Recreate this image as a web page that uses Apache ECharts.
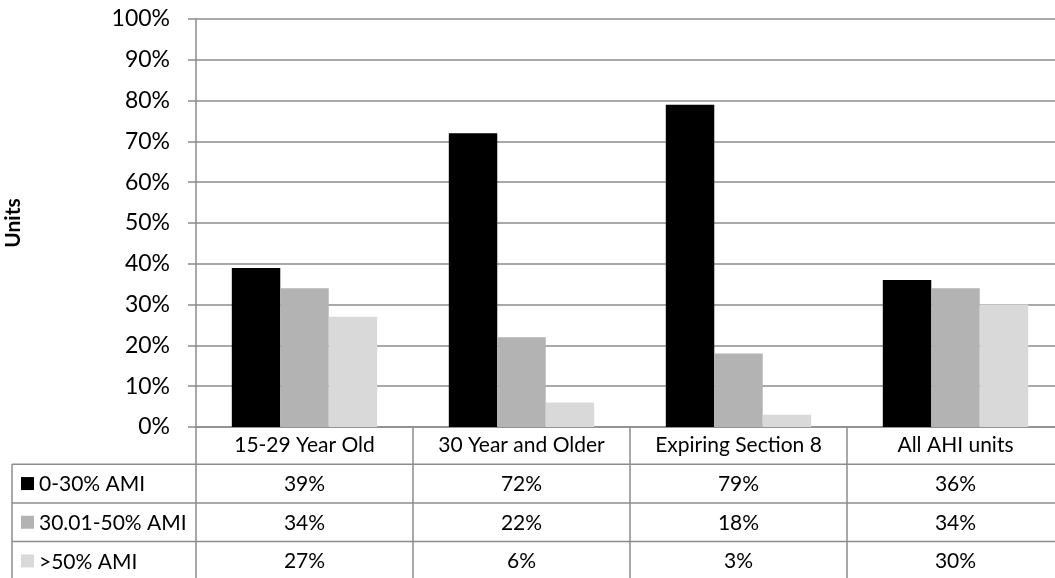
<!DOCTYPE html>
<html>
<head>
<meta charset="utf-8">
<title>AHI units by AMI band</title>
<script src="https://cdn.jsdelivr.net/npm/echarts@6/dist/echarts.min.js"></script>
<style>
  html, body { margin: 0; padding: 0; background: #ffffff; }
  #chart { width: 1055px; height: 578px; }
</style>
</head>
<body>
<div id="chart"></div>
<script>
// Property groups along the category axis
const categories = ['15-29 Year Old', '30 Year and Older', 'Expiring Section 8', 'All AHI units'];

// Share of units in each income band (percent)
const seriesNames = ['0-30% AMI', '30.01-50% AMI', '>50% AMI'];
const ami0to30 = [39, 72, 79, 36];
const ami30to50 = [34, 22, 18, 34];
const amiOver50 = [27, 6, 3, 30];

// Value axis ticks
const yMin = 0;
const yMax = 100;
const yStep = 10;

const seriesValues = [ami0to30, ami30to50, amiOver50];
const barColors = ['#000000', '#b3b3b3', '#d9d9d9'];

const FONT = 'Lato, "Open Sans", sans-serif';
const TABLE_FONT_SIZE = 21;
const LINE = '#8c8c8c';
const ROW_H = 38.7;

// Layout of the plot and the data table underneath it
const plotLeft = 196;
const plotTop = 19;
const plotHeight = 408;
const catWidth = 217;
const tableLeft = 12;
const tableBottom = 578;

const chart = echarts.init(document.getElementById('chart'), null, { renderer: 'canvas' });

// Data table text under each category: header plus one row per band
function tableCell(value, index) {
  const rows = [value].concat(seriesValues.map(s => s[index] + '%'));
  return rows.join('\n');
}

const axisY = plotTop + plotHeight;
const graphics = [];
// Horizontal row dividers of the data table
for (let r = 1; r <= seriesNames.length; r++) {
  const y = axisY + r * ROW_H - 1.5;
  graphics.push({
    type: 'line',
    shape: { x1: tableLeft, y1: y, x2: 1055, y2: y },
    style: { stroke: LINE, lineWidth: 1.5 },
    silent: true
  });
}
// Left border of the key column
graphics.push({
  type: 'line',
  shape: { x1: tableLeft, y1: axisY + ROW_H - 1.5, x2: tableLeft, y2: tableBottom },
  style: { stroke: LINE, lineWidth: 1.5 },
  silent: true
});
// Key column: colour swatch and band name in each table row
seriesNames.forEach((name, i) => {
  const cy = axisY + (i + 1.5) * ROW_H - 1.5;
  graphics.push({
    type: 'rect',
    shape: { x: 21, y: cy - 6.5, width: 13, height: 13 },
    style: { fill: barColors[i] },
    silent: true
  });
  graphics.push({
    type: 'text',
    x: 39,
    y: cy + 1,
    style: {
      text: name,
      fill: '#000000',
      font: TABLE_FONT_SIZE + 'px ' + FONT,
      textAlign: 'left',
      textVerticalAlign: 'middle'
    },
    silent: true
  });
});

chart.setOption({
  animation: false,
  backgroundColor: '#ffffff',
  textStyle: { fontFamily: FONT },
  grid: {
    left: plotLeft,
    top: plotTop,
    width: catWidth * categories.length,
    height: plotHeight,
    containLabel: false,
    outerBoundsMode: 'none'
  },
  xAxis: {
    type: 'category',
    data: categories,
    axisLine: { show: true, lineStyle: { color: LINE, width: 1.5 } },
    axisTick: {
      show: true,
      alignWithLabel: false,
      length: tableBottom - axisY,
      lineStyle: { color: LINE, width: 1.5 }
    },
    axisLabel: {
      interval: 0,
      margin: -1,
      fontFamily: FONT,
      fontSize: TABLE_FONT_SIZE,
      color: '#000000',
      lineHeight: ROW_H,
      formatter: tableCell
    }
  },
  yAxis: {
    type: 'value',
    min: yMin,
    max: yMax,
    interval: yStep,
    name: 'Units',
    nameLocation: 'middle',
    nameRotate: 90,
    nameGap: 172,
    nameTextStyle: { fontFamily: FONT, fontSize: 21, fontWeight: 'bold', color: '#000000' },
    axisLine: { show: true, lineStyle: { color: LINE, width: 1.5 } },
    axisTick: { show: true, length: 8, lineStyle: { color: LINE, width: 1.5 } },
    axisLabel: {
      margin: 26,
      fontFamily: FONT,
      fontSize: 23,
      color: '#000000',
      formatter: v => v + '%'
    },
    splitLine: { show: true, lineStyle: { color: LINE, width: 1.5 } }
  },
  series: seriesNames.map((name, i) => ({
    name: name,
    type: 'bar',
    data: seriesValues[i],
    barGap: '0%',
    barCategoryGap: '33%',
    itemStyle: { color: barColors[i] }
  })),
  graphic: graphics
});
</script>
</body>
</html>
